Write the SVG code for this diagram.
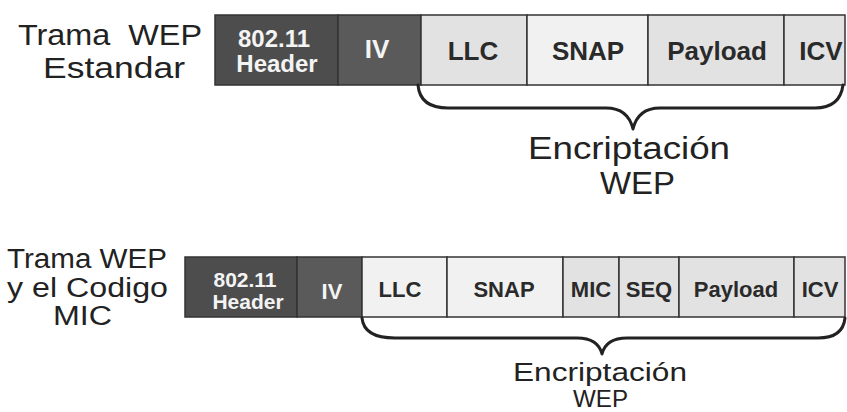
<svg xmlns="http://www.w3.org/2000/svg" width="847" height="412" viewBox="0 0 847 412">
<style>
.lbl{font-family:"Liberation Sans",Arial,sans-serif;fill:#222;}
.cell{font-family:"Liberation Sans",Arial,sans-serif;font-weight:bold;fill:#2a2a2a;text-anchor:middle;}
.wh{font-family:"Liberation Sans",Arial,sans-serif;font-weight:bold;fill:#f4f4f4;text-anchor:middle;}
.dark{fill:#4d4d4d;stroke:#333;stroke-width:1.5;}
.dark2{fill:#5a5a5a;stroke:#333;stroke-width:1.5;}
.light{fill:#e2e2e2;stroke:#333;stroke-width:1.5;}
.lighter{fill:#f1f1f1;stroke:#333;stroke-width:1.5;}
.brace{fill:none;stroke:#222;stroke-width:3;stroke-linejoin:round;stroke-linecap:round;}
</style>
<rect width="847" height="412" fill="#ffffff"/>

<g id="label-top">
<text class="lbl" x="18" y="45" font-size="30" textLength="184" lengthAdjust="spacingAndGlyphs" xml:space="preserve">Trama  WEP</text>
<text class="lbl" x="43" y="78" font-size="30" textLength="142" lengthAdjust="spacingAndGlyphs">Estandar</text>
</g>

<g id="frame-top">
<g id="t-header"><rect class="dark" x="215" y="15" width="123" height="70"/>
<text class="wh" x="274" y="47" font-size="24">802.11</text>
<text class="wh" x="277" y="72" font-size="24">Header</text></g>
<g id="t-iv"><rect class="dark2" x="338" y="15" width="83" height="70"/>
<text class="wh" x="377" y="58" font-size="26">IV</text></g>
<g id="t-llc"><rect class="light" x="421" y="15" width="106" height="70"/>
<text class="cell" x="473" y="60" font-size="26">LLC</text></g>
<g id="t-snap"><rect class="lighter" x="527" y="15" width="121" height="70"/>
<text class="cell" x="588" y="60" font-size="26">SNAP</text></g>
<g id="t-payload"><rect class="light" x="648" y="15" width="136" height="70"/>
<text class="cell" x="717" y="60" font-size="26">Payload</text></g>
<g id="t-icv"><rect class="light" x="784" y="15" width="61" height="70"/>
<text class="cell" x="821" y="60" font-size="26">ICV</text></g>
</g>

<g id="label-bottom">
<text class="lbl" x="7" y="268" font-size="27" textLength="160" lengthAdjust="spacingAndGlyphs">Trama WEP</text>
<text class="lbl" x="7" y="297" font-size="27" textLength="161" lengthAdjust="spacingAndGlyphs">y el Codigo</text>
<text class="lbl" x="53" y="325" font-size="27" textLength="59" lengthAdjust="spacingAndGlyphs">MIC</text>
</g>

<g id="frame-bottom">
<g id="b-header"><rect class="dark" x="185" y="257" width="112" height="60"/>
<text class="wh" x="245" y="287" font-size="21">802.11</text>
<text class="wh" x="248" y="309" font-size="21">Header</text></g>
<g id="b-iv"><rect class="dark2" x="297" y="257" width="65" height="60"/>
<text class="wh" x="332" y="299" font-size="22">IV</text></g>
<g id="b-llc"><rect class="lighter" x="362" y="257" width="85" height="60"/>
<text class="cell" x="400" y="297" font-size="22">LLC</text></g>
<g id="b-snap"><rect class="lighter" x="447" y="257" width="116" height="60"/>
<text class="cell" x="504" y="297" font-size="22">SNAP</text></g>
<g id="b-mic"><rect class="light" x="563" y="257" width="56" height="60"/>
<text class="cell" x="591" y="297" font-size="22">MIC</text></g>
<g id="b-seq"><rect class="light" x="619" y="257" width="60" height="60"/>
<text class="cell" x="649" y="297" font-size="22">SEQ</text></g>
<g id="b-payload"><rect class="light" x="679" y="257" width="115" height="60"/>
<text class="cell" x="736" y="297" font-size="22">Payload</text></g>
<g id="b-icv"><rect class="light" x="794" y="257" width="51" height="60"/>
<text class="cell" x="820" y="297" font-size="22">ICV</text></g>
</g>

<g id="connectors">
<path class="brace" d="M418,85 Q420,108 448,108 L606,108 Q628,108 633,129 Q638,108 660,108 L815,108 Q840,108 843,85"/>
<path class="brace" d="M362,318 Q364,338 395,338 L577,338 Q598,338 602,354 Q606,338 627,338 L818,338 Q843,338 845,318"/>
</g>

<g id="label-enc-top">
<text class="lbl" x="528" y="159" font-size="31" textLength="202" lengthAdjust="spacingAndGlyphs">Encriptación</text>
<text class="lbl" x="600" y="194" font-size="31" textLength="75" lengthAdjust="spacingAndGlyphs">WEP</text>
</g>
<g id="label-enc-bottom">
<text class="lbl" x="513" y="381" font-size="26" textLength="174" lengthAdjust="spacingAndGlyphs">Encriptación</text>
<text class="lbl" x="573" y="407" font-size="24" textLength="55" lengthAdjust="spacingAndGlyphs">WEP</text>
</g>
</svg>
